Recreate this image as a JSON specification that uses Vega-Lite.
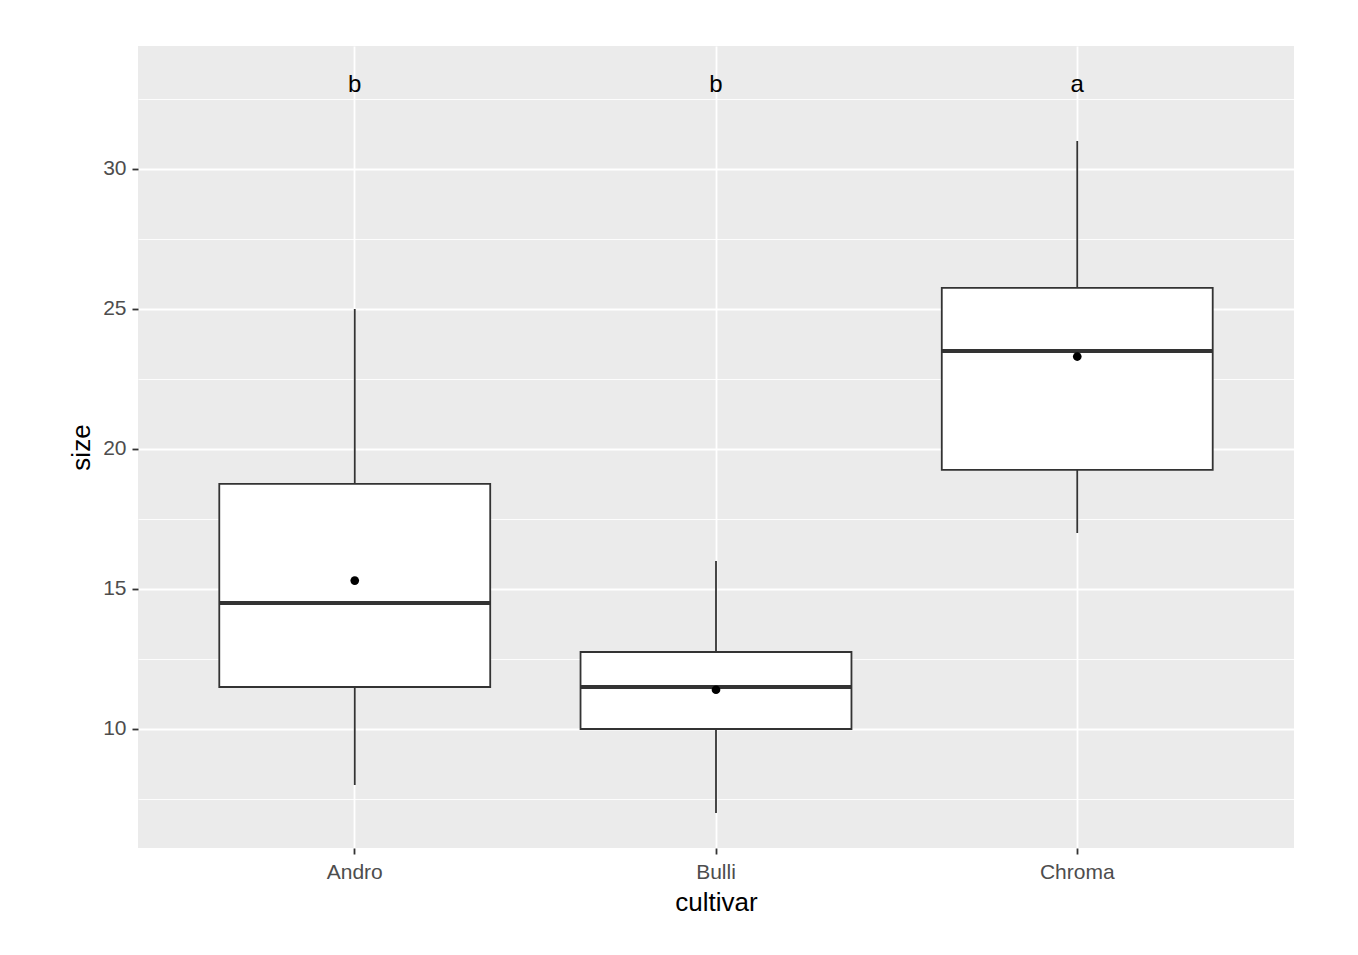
{
  "$schema": "https://vega.github.io/schema/vega-lite/v6.json",
  "width": 1156,
  "height": 802,
  "autosize": {"type": "none"},
  "padding": {"left": 138, "top": 46, "right": 64, "bottom": 107},
  "background": "white",
  "config": {
    "view": {"fill": "#EBEBEB", "stroke": null},
    "font": "Liberation Sans"
  },
  "data": {
    "values": [
      {"cultivar": "Andro", "lower": 8, "q1": 11.5, "median": 14.5, "q3": 18.75, "upper": 25, "mean": 15.3, "letter": "b", "ly": 33},
      {"cultivar": "Bulli", "lower": 7, "q1": 10, "median": 11.5, "q3": 12.75, "upper": 16, "mean": 11.4, "letter": "b", "ly": 33},
      {"cultivar": "Chroma", "lower": 17, "q1": 19.25, "median": 23.5, "q3": 25.75, "upper": 31, "mean": 23.3, "letter": "a", "ly": 33}
    ]
  },
  "encoding": {
    "x": {
      "field": "cultivar", "type": "nominal",
      "scale": {"paddingInner": 0.25, "paddingOuter": 0.225},
      "axis": {
        "title": "cultivar", "labelAngle": 0, "bandPosition": 0.5,
        "grid": true, "gridColor": "white", "gridWidth": 1.8,
        "domain": false, "ticks": true, "tickColor": "#333333", "tickSize": 6, "tickWidth": 1.8,
        "labelColor": "#4D4D4D", "labelFontSize": 21, "labelPadding": 7,
        "titleFontSize": 26, "titleFontWeight": "normal", "titleColor": "black", "titlePadding": 7
      }
    }
  },
  "layer": [
    {
      "mark": {"type": "rule", "color": "#333333", "strokeWidth": 1.8},
      "encoding": {
        "y": {
          "field": "lower", "type": "quantitative",
          "scale": {"domain": [5.75, 34.39], "nice": false, "zero": false},
          "axis": {
            "title": "size",
            "values": [7.5, 10, 12.5, 15, 17.5, 20, 22.5, 25, 27.5, 30, 32.5],
            "labelExpr": "datum.value % 5 == 0 ? datum.label : ''",
            "grid": true, "gridColor": "white",
            "gridWidth": {"condition": {"test": "datum.value % 5 == 0", "value": 1.8}, "value": 0.9},
            "domain": false, "tickColor": "#333333", "tickSize": 6, "tickWidth": 1.8,
            "tickOpacity": {"condition": {"test": "datum.value % 5 == 0", "value": 1}, "value": 0},
            "labelColor": "#4D4D4D", "labelFontSize": 21, "labelPadding": 6,
            "titleFontSize": 26, "titleFontWeight": "normal", "titleColor": "black", "titlePadding": 8
          }
        },
        "y2": {"field": "upper"}
      }
    },
    {
      "mark": {"type": "bar", "fill": "white", "stroke": "#333333", "strokeWidth": 1.8},
      "encoding": {
        "y": {"field": "q1", "type": "quantitative"},
        "y2": {"field": "q3"}
      }
    },
    {
      "mark": {"type": "bar", "fill": "white", "stroke": "#333333", "strokeWidth": 4},
      "encoding": {
        "y": {"field": "median", "type": "quantitative"},
        "y2": {"field": "median"}
      }
    },
    {
      "mark": {"type": "point", "filled": true, "color": "black", "size": 75, "opacity": 1},
      "encoding": {
        "y": {"field": "mean", "type": "quantitative"}
      }
    },
    {
      "mark": {"type": "text", "fontSize": 24, "color": "black", "baseline": "middle", "align": "center"},
      "encoding": {
        "y": {"field": "ly", "type": "quantitative"},
        "text": {"field": "letter"}
      }
    }
  ]
}
